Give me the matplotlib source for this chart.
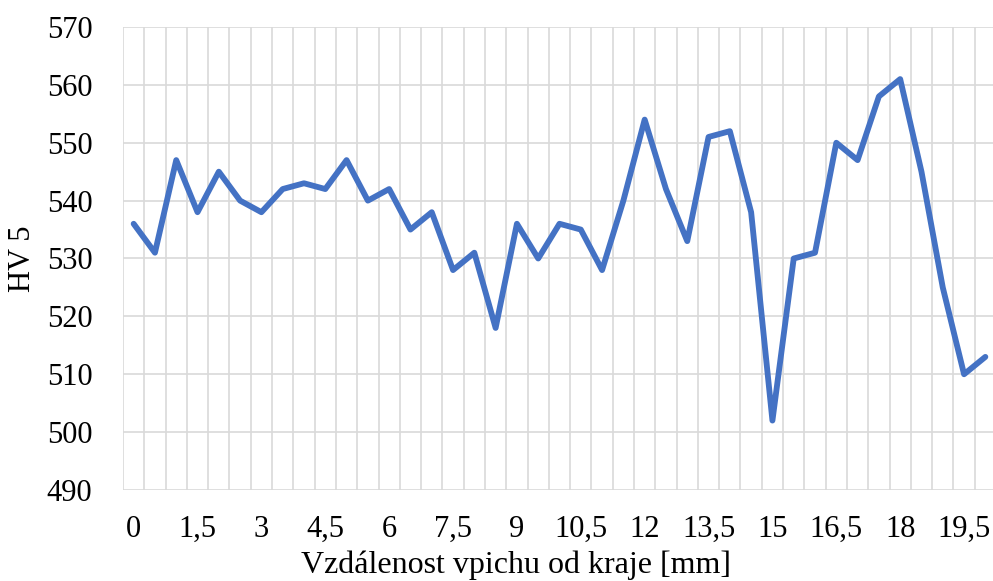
import matplotlib
matplotlib.use("Agg")
import matplotlib.pyplot as plt
import numpy as np

# distance from edge [mm] and hardness HV 5
distance = [0, 0.5, 1, 1.5, 2, 2.5, 3, 3.5, 4, 4.5, 5, 5.5, 6, 6.5, 7, 7.5, 8, 8.5, 9, 9.5,
            10, 10.5, 11, 11.5, 12, 12.5, 13, 13.5, 14, 14.5, 15, 15.5, 16, 16.5, 17, 17.5,
            18, 18.5, 19, 19.5, 20]
hardness = [536, 531, 547, 538, 545, 540, 538, 542, 543, 542, 547, 540, 542, 535, 538, 528,
            531, 518, 536, 530, 536, 535, 528, 540, 554, 542, 533, 551, 552, 538, 502, 530,
            531, 550, 547, 558, 561, 545, 525, 510, 513]
y_ticks = [490, 500, 510, 520, 530, 540, 550, 560, 570]

plt.rcParams['font.family'] = ['Liberation Serif', 'DejaVu Serif']

fig = plt.figure(figsize=(9.93, 5.81), dpi=100)
ax = fig.add_axes([123 / 993, 1 - 490 / 581, 873 / 993, 463 / 581])

pos = np.arange(len(distance))
ax.plot(pos, hardness, color='#4472C4', linewidth=4.2, solid_joinstyle='round',
        solid_capstyle='round', zorder=3, clip_on=False)

grid_color = '#D9D9D9'
for b in np.arange(len(distance) + 1) - 0.5:
    ax.axvline(b, color=grid_color, linewidth=1.2, zorder=1)
for v in y_ticks:
    ax.axhline(v, color=grid_color, linewidth=1.2, zorder=1)

ax.set_xlim(-0.5, len(distance) - 0.5)
ax.set_ylim(490, 570)
ax.set_yticks(y_ticks)
ax.set_yticklabels([str(v) for v in y_ticks])
lab_pos = pos[::3]
ax.set_xticks(lab_pos)
ax.set_xticklabels([('%g' % distance[i]).replace('.', ',') for i in lab_pos])
ax.tick_params(length=0, labelsize=22, colors='black')
ax.tick_params(axis='y', pad=22)
ax.tick_params(axis='x', pad=18)

for s in ax.spines.values():
    s.set_visible(False)

ax.set_ylabel('HV 5', fontsize=22)
ax.yaxis.set_label_coords(-86 / 873, 0.5)
ax.set_xlabel('Vzdálenost vpichu od kraje [mm]', fontsize=23)
ax.xaxis.set_label_coords(393 / 873, -61 / 463)

fig.savefig('out.png', dpi=100)
